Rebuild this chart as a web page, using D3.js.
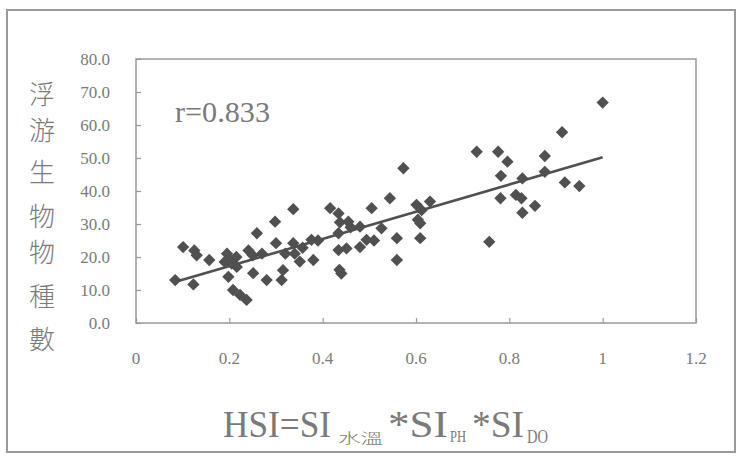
<!DOCTYPE html>
<html><head><meta charset="utf-8">
<script src="https://cdn.jsdelivr.net/npm/d3@7"></script>
<style>body{margin:0;background:#fff}svg{display:block}</style>
</head><body>
<script>
const hsi = [0.084,0.101,0.125,0.13,0.123,0.157,0.195,0.2,0.205,0.19,0.215,0.198,0.208,0.223,0.237,0.216,0.241,0.25,0.259,0.251,0.27,0.28,0.298,0.30,0.312,0.315,0.32,0.337,0.337,0.34,0.351,0.357,0.38,0.376,0.39,0.416,0.434,0.437,0.434,0.434,0.436,0.44,0.455,0.46,0.451,0.48,0.48,0.494,0.505,0.51,0.526,0.544,0.559,0.559,0.573,0.601,0.604,0.609,0.612,0.609,0.630,0.730,0.757,0.776,0.781,0.782,0.796,0.814,0.826,0.828,0.828,0.855,0.876,0.876,0.913,0.919,0.950,1.0];
const species = [13.0,23.0,22.0,20.5,11.7,19.1,21.0,19.5,18.0,18.5,20.0,14.0,10.0,8.5,7.0,17.0,22.0,20.5,27.2,15.1,21.0,13.0,30.7,24.2,13.0,16.0,21.0,34.5,24.2,21.0,18.6,22.8,19.1,25.2,25.0,34.8,33.2,30.5,27.2,22.1,16.1,15.0,30.7,29.0,22.6,29.2,23.0,25.2,34.8,25.0,28.7,37.8,25.7,19.1,46.9,35.8,31.3,25.7,34.2,30.2,36.8,51.9,24.6,51.9,37.8,44.6,48.9,38.8,37.8,43.8,33.4,35.5,50.6,45.8,57.8,42.6,41.5,66.8];
const trendX = [0.085, 1.0];
const trendY = [12.5, 50.2];
const xTicks = [0, 0.2, 0.4, 0.6, 0.8, 1, 1.2];
const yTicks = [0, 10, 20, 30, 40, 50, 60, 70, 80];
const yTitle = ["浮","游","生","物","物","種","數"];

const W = 738, H = 457;
const svg = d3.select("body").append("svg").attr("width", W).attr("height", H);
const serif = "'Liberation Serif','DejaVu Serif',serif";
const cjk = "'Noto Sans CJK TC','Noto Sans CJK SC',sans-serif";
const grey = "#7a7a7a";

svg.append("rect").attr("x", 7).attr("y", 10).attr("width", 728).attr("height", 442)
  .attr("fill", "none").attr("stroke", "#9a9a9a").attr("stroke-width", 2);

const x = d3.scaleLinear().domain([0, 1.2]).range([136, 696]);
const y = d3.scaleLinear().domain([0, 80]).range([323, 59]);

// frame
svg.append("rect").attr("x", x(0)).attr("y", y(80)).attr("width", x(1.2) - x(0)).attr("height", y(0) - y(80))
  .attr("fill", "none").attr("stroke", "#999").attr("stroke-width", 1.5);

// y axis (ticks inside)
const yAx = svg.append("g").attr("transform", `translate(${x(0)},0)`)
  .call(d3.axisRight(y).tickValues(yTicks).tickSize(5).tickFormat(""));
yAx.select(".domain").remove();
yAx.selectAll("line").attr("stroke", "#999").attr("stroke-width", 1.2);
svg.append("g").selectAll("text").data(yTicks).join("text")
  .attr("x", 110).attr("y", d => y(d) + 6).attr("text-anchor", "end")
  .attr("font-family", serif).attr("font-size", 17).attr("fill", grey)
  .text(d3.format(".1f"));

// x axis (ticks inside)
const xAx = svg.append("g").attr("transform", `translate(0,${y(0)})`)
  .call(d3.axisTop(x).tickValues(xTicks).tickSize(5).tickFormat(""));
xAx.select(".domain").remove();
xAx.selectAll("line").attr("stroke", "#999").attr("stroke-width", 1.2);
svg.append("g").selectAll("text").data(xTicks).join("text")
  .attr("x", d => x(d)).attr("y", 364).attr("text-anchor", "middle")
  .attr("font-family", serif).attr("font-size", 17).attr("fill", grey)
  .text(d => String(d));

// points
const pts = hsi.map((v, i) => [v, species[i]]);
const sym = d3.symbol().type(d3.symbolSquare).size(76);
svg.append("g").selectAll("path").data(pts).join("path")
  .attr("d", sym)
  .attr("transform", d => `translate(${x(d[0])},${y(d[1])}) rotate(45)`)
  .attr("fill", "#505050");

// trend line
svg.append("path").datum(trendX.map((v, i) => [v, trendY[i]]))
  .attr("d", d3.line().x(d => x(d[0])).y(d => y(d[1])))
  .attr("fill", "none").attr("stroke", "#505050").attr("stroke-width", 2.6);

// r label
svg.append("text").attr("x", 175).attr("y", 122)
  .attr("font-family", serif).attr("font-size", 29).attr("fill", grey)
  .attr("textLength", 95).attr("lengthAdjust", "spacingAndGlyphs")
  .text("r=0.833");

// y title
const yCenters = [95, 131, 173, 217, 253, 297, 340];
svg.append("g").selectAll("text").data(yTitle).join("text")
  .attr("x", 42).attr("y", (d, i) => yCenters[i] + 9).attr("text-anchor", "middle")
  .attr("font-family", cjk).attr("font-size", 26).attr("font-weight", 300).attr("fill", grey)
  .text(d => d);

// x title as one text element with tspans
const tt = svg.append("text").attr("fill", grey).attr("font-family", serif);
function seg(txt, xp, yp, fs, len, fam) {
  tt.append("tspan").attr("x", xp).attr("y", yp).attr("font-family", fam || serif)
    .attr("font-size", fs).attr("textLength", len).attr("lengthAdjust", "spacingAndGlyphs")
    .attr("font-weight", fam ? 300 : 400).text(txt);
}
seg("HSI=SI", 223, 437, 37, 108);
seg("水溫", 338, 443, 14, 45, cjk);
seg("*SI", 388, 437, 37, 60);
seg("PH", 450, 442, 16, 16);
seg("*SI", 472, 437, 37, 52);
seg("DO", 527, 443, 18, 21);
</script>
</body></html>
